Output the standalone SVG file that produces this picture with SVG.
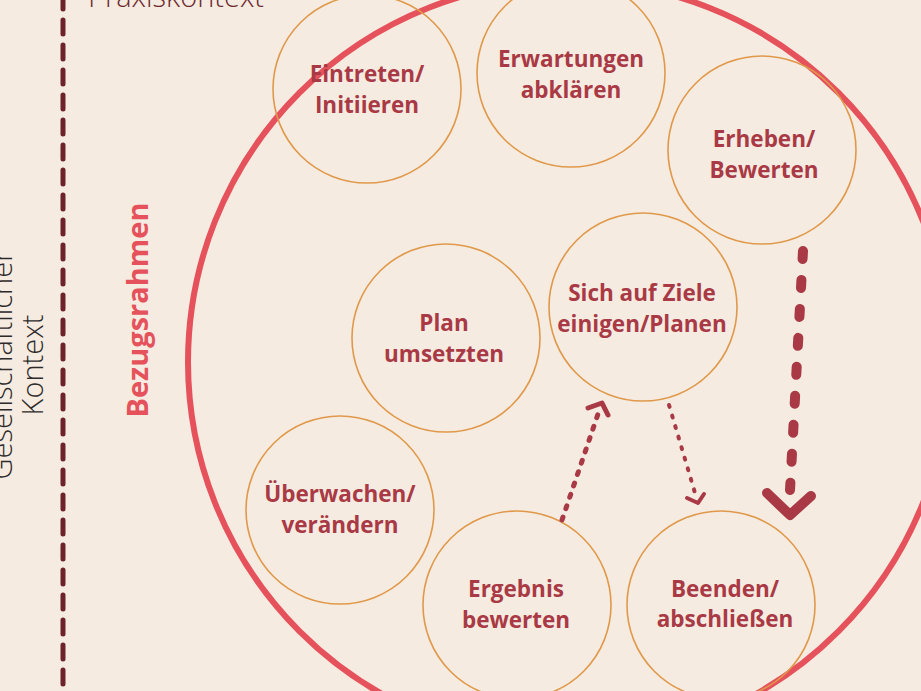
<svg xmlns="http://www.w3.org/2000/svg" width="921" height="691" viewBox="0 0 921 691">
<defs>
<style>
.bg{fill:#f5ebe1}
.node circle{fill:none;stroke:#e0994a;stroke-width:1.6}
.node text{font-family:"Open Sans","Noto Sans","Liberation Sans",sans-serif;font-weight:700;font-size:22.5px;fill:#a93a45;text-anchor:middle}
.light{font-family:"Open Sans","Noto Sans","Liberation Sans",sans-serif;font-weight:300;font-size:29px}
.frame{fill:none;stroke:#e5525b;stroke-width:6}
.conn{fill:none;stroke:#a93a45;stroke-linecap:round;stroke-linejoin:round}
</style>
</defs>
<rect class="bg" x="0" y="0" width="921" height="691"/>
<g id="context">
<line x1="63" y1="-5" x2="63" y2="700" stroke="#6e2229" stroke-width="5" stroke-linecap="round" stroke-dasharray="14 11"/>
<text class="light" x="88" y="7" fill="#6e2a30">Praxiskontext</text>
<text class="light" transform="translate(12,365) rotate(-90)" text-anchor="middle" fill="#2f2a2a">Gesellschaftlicher</text>
<text class="light" transform="translate(43,365) rotate(-90)" text-anchor="middle" fill="#2f2a2a">Kontext</text>
</g>
<g id="bezugsrahmen">
<circle class="frame" cx="569" cy="362" r="381"/>
<text transform="translate(148,310) rotate(-90)" text-anchor="middle" font-family="'Open Sans','Noto Sans','Liberation Sans',sans-serif" font-weight="700" font-size="29" fill="#e5525b">Bezugsrahmen</text>
</g>
<g id="n-eintreten" class="node"><circle cx="367" cy="89" r="94"/><text x="367" y="82">Eintreten/</text><text x="367" y="113">Initiieren</text></g>
<g id="n-erwartungen" class="node"><circle cx="571" cy="73" r="94"/><text x="571" y="67">Erwartungen</text><text x="571" y="98">abklären</text></g>
<g id="n-erheben" class="node"><circle cx="762" cy="150" r="94"/><text x="764" y="147">Erheben/</text><text x="764" y="178">Bewerten</text></g>
<g id="n-plan" class="node"><circle cx="446" cy="338" r="94"/><text x="444" y="331">Plan</text><text x="444" y="362">umsetzten</text></g>
<g id="n-ziele" class="node"><circle cx="643" cy="307" r="94"/><text x="642" y="301">Sich auf Ziele</text><text x="642" y="332">einigen/Planen</text></g>
<g id="n-ueberwachen" class="node"><circle cx="340" cy="510" r="94"/><text x="340" y="502">Überwachen/</text><text x="340" y="533">verändern</text></g>
<g id="n-ergebnis" class="node"><circle cx="517" cy="605" r="94"/><text x="516" y="597">Ergebnis</text><text x="516" y="628">bewerten</text></g>
<g id="n-beenden" class="node"><circle cx="721" cy="605" r="94"/><text x="725" y="597">Beenden/</text><text x="725" y="627">abschließen</text></g>
<g id="connectors">
<path class="conn" d="M803 251 L790 490" stroke-width="10" stroke-dasharray="8 21"/>
<path class="conn" d="M767 493 L790 515 L811 496" stroke-width="10"/>
<path class="conn" d="M562 520 L598 414" stroke-width="5" stroke-dasharray="3 9"/>
<path class="conn" d="M588 408 L602 403 L608 415" stroke-width="5"/>
<path class="conn" d="M669 405 L695 493" stroke-width="4" stroke-dasharray="2 9"/>
<path class="conn" d="M687 498 L698 503 L704 494" stroke-width="4"/>
</g>
</svg>
